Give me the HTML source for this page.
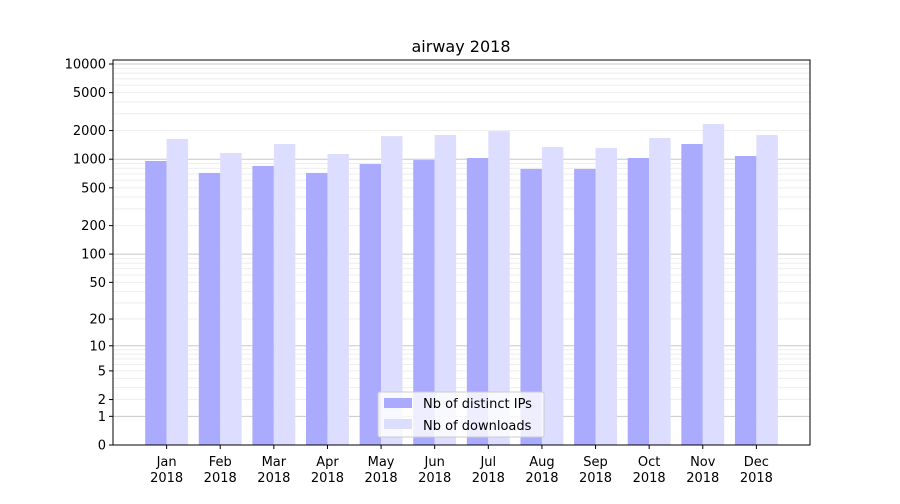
<!DOCTYPE html>
<html><head><meta charset="utf-8"><style>
body{margin:0;background:#fff;font-family:"DejaVu Sans","Liberation Sans",sans-serif;}
svg text{font-family:"DejaVu Sans","Liberation Sans",sans-serif;}
</style></head><body>
<svg id="chart" width="900" height="500" xmlns="http://www.w3.org/2000/svg">
<rect width="900" height="500" fill="#fff"/>
<text x="461" y="52" font-size="16" text-anchor="middle">airway 2018</text>
<g id="grid"></g><g id="bars"></g><g id="axes"></g>
<g>
<rect x="378" y="392" width="166" height="45" fill="#fff" fill-opacity="0.8" stroke="#ccc" rx="2"/>
<rect x="384" y="398" width="28" height="10" fill="#aaaaff"/>
<text x="423" y="408" font-size="13">Nb of distinct IPs</text>
<rect x="384" y="419" width="28" height="10" fill="#ddddff"/>
<text x="423" y="430" font-size="13">Nb of downloads</text>
</g>
</svg>
<script>
const months=["Jan","Feb","Mar","Apr","May","Jun","Jul","Aug","Sep","Oct","Nov","Dec"];
const ips=[958,717,849,717,890,980,1030,790,790,1030,1445,1080];
const downloads=[1630,1163,1445,1135,1750,1795,1975,1345,1313,1670,2345,1795];
const yTicks=[0,1,2,5,10,20,50,100,200,500,1000,2000,5000,10000];
const NS="http://www.w3.org/2000/svg";
const L=113,R=810,T=60,B=445;
const step=(R-L)/13;
const xs=i=>L+step*(i+1);
const ys=v=>B-95.25*Math.log10(1+v);
function mk(tag,attrs,parent){const e=document.createElementNS(NS,tag);for(const k in attrs)e.setAttribute(k,attrs[k]);parent.appendChild(e);return e;}
const grid=document.getElementById('grid'),bars=document.getElementById('bars'),axes=document.getElementById('axes');
// minor grid
for(let d=1;d<=1000;d*=10){for(let m=2;m<=9;m++){const y=ys(m*d);const l=mk('line',{x1:L,x2:R,y1:y,y2:y,stroke:'#eeeeee','stroke-width':1},grid);

}}
[1,10,100,1000,10000].forEach(v=>{const y=ys(v);const l=mk('line',{x1:L,x2:R,y1:y,y2:y,stroke:'#c8c8c8','stroke-width':1},grid);

});
const bw=step*0.4;
months.forEach((m,i)=>{
 const x=xs(i);
 const b1=mk('rect',{x:x-bw,y:ys(ips[i]),width:bw,height:B-ys(ips[i]),fill:'#aaaaff'},bars);
 
 
 const b2=mk('rect',{x:x,y:ys(downloads[i]),width:bw,height:B-ys(downloads[i]),fill:'#ddddff'},bars);
 
 
 mk('line',{x1:x,x2:x,y1:B,y2:B+4,stroke:'#000'},axes);
 const t=mk('text',{x:x,y:B+21,'font-size':13,'text-anchor':'middle'},axes);t.textContent=m;
 
 
 const t2=mk('text',{x:x,y:B+37,'font-size':13,'text-anchor':'middle'},axes);t2.textContent='2018';
 
 
});
yTicks.forEach(v=>{const y=ys(v);mk('line',{x1:L-4,x2:L,y1:y,y2:y,stroke:'#000'},axes);
 const t=mk('text',{x:L-7,y:y+4.5,'font-size':13,'text-anchor':'end'},axes);t.textContent=v;
 
 });
const fr=mk('rect',{x:L,y:T,width:R-L,height:B-T,fill:'none',stroke:'#000','stroke-width':1},axes);


</script>
</body></html>
